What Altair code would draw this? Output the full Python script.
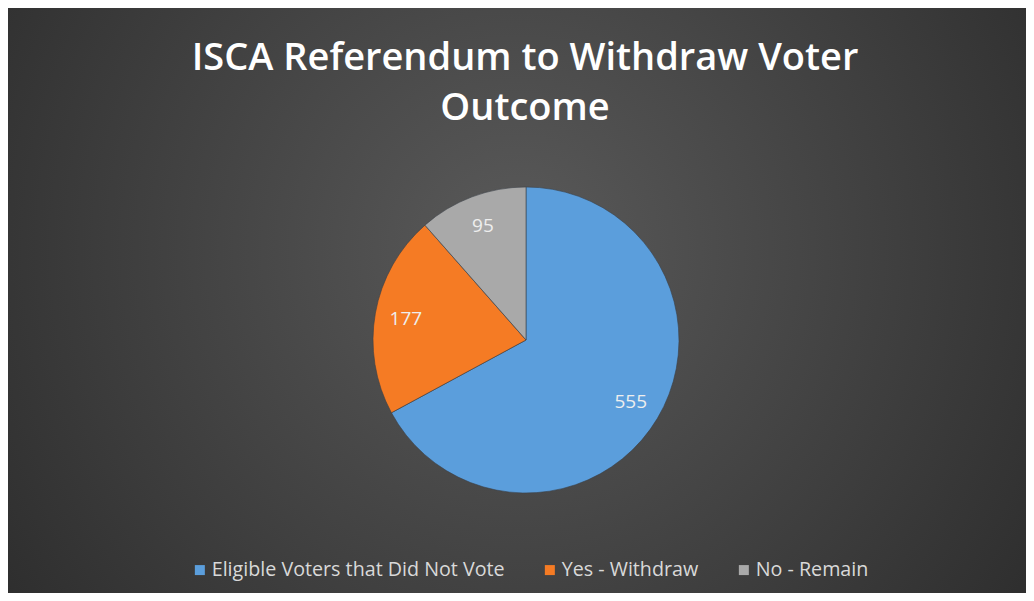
import altair as alt
import pandas as pd

categories = ["Eligible Voters that Did Not Vote", "Yes - Withdraw", "No - Remain"]
counts = [555, 177, 95]
colors = ["#5B9EDC", "#F57B24", "#A9A9A9"]
title_lines = ["ISCA Referendum to Withdraw Voter", "Outcome"]

W, H = 1018, 585
CX, CY, R = 518, 332, 153

df = pd.DataFrame({"category": categories, "count": counts,
                   "order": list(range(len(categories)))})
one = pd.DataFrame({"a": [0]})

bg = alt.Chart(one).mark_rect(
    fill={"gradient": "radial",
          "stops": [{"offset": 0, "color": "#5a5a5a"},
                    {"offset": 1, "color": "#262626"}],
          "x1": 0.5, "y1": 0.45, "x2": 0.5, "y2": 0.45, "r1": 0, "r2": 0.72}
).encode(x=alt.value(0), x2=alt.value(W), y=alt.value(0), y2=alt.value(H))

base = alt.Chart(df).encode(
    theta=alt.Theta("count:Q", stack=True),
    order=alt.Order("order:Q"),
)

pie = base.mark_arc(radius=R, stroke="#3a3f46", strokeWidth=0.6).encode(
    x=alt.value(CX), y=alt.value(CY),
    color=alt.Color(
        "category:N",
        scale=alt.Scale(domain=categories, range=colors),
        legend=alt.Legend(
            orient="none", legendX=182, legendY=552, direction="horizontal",
            title=None, symbolType="square", symbolSize=100, symbolStrokeWidth=0,
            symbolOpacity=1, labelFont="Open Sans", labelFontSize=19.7,
            labelColor="#d9d9d9", labelOffset=2, columnPadding=35, padding=0,
            labelLimit=0,
        ),
    ),
)

labels = base.mark_text(radius=122, font="Open Sans", fontSize=19,
                        color="#eeeeee").encode(
    x=alt.value(CX), y=alt.value(CY), text="count:Q"
)

title = alt.Chart(one).mark_text(
    font="Open Sans", fontSize=38, fontWeight=600, color="#ffffff",
    lineHeight=50, align="center", baseline="alphabetic"
).encode(x=alt.value(517), y=alt.value(62), text=alt.value(title_lines))

chart = alt.layer(bg, pie, labels, title).properties(
    width=W, height=H, padding=0, autosize="none"
).configure_view(strokeWidth=0)

chart.save("out.html", embed_options={"renderer": "svg", "actions": False})
